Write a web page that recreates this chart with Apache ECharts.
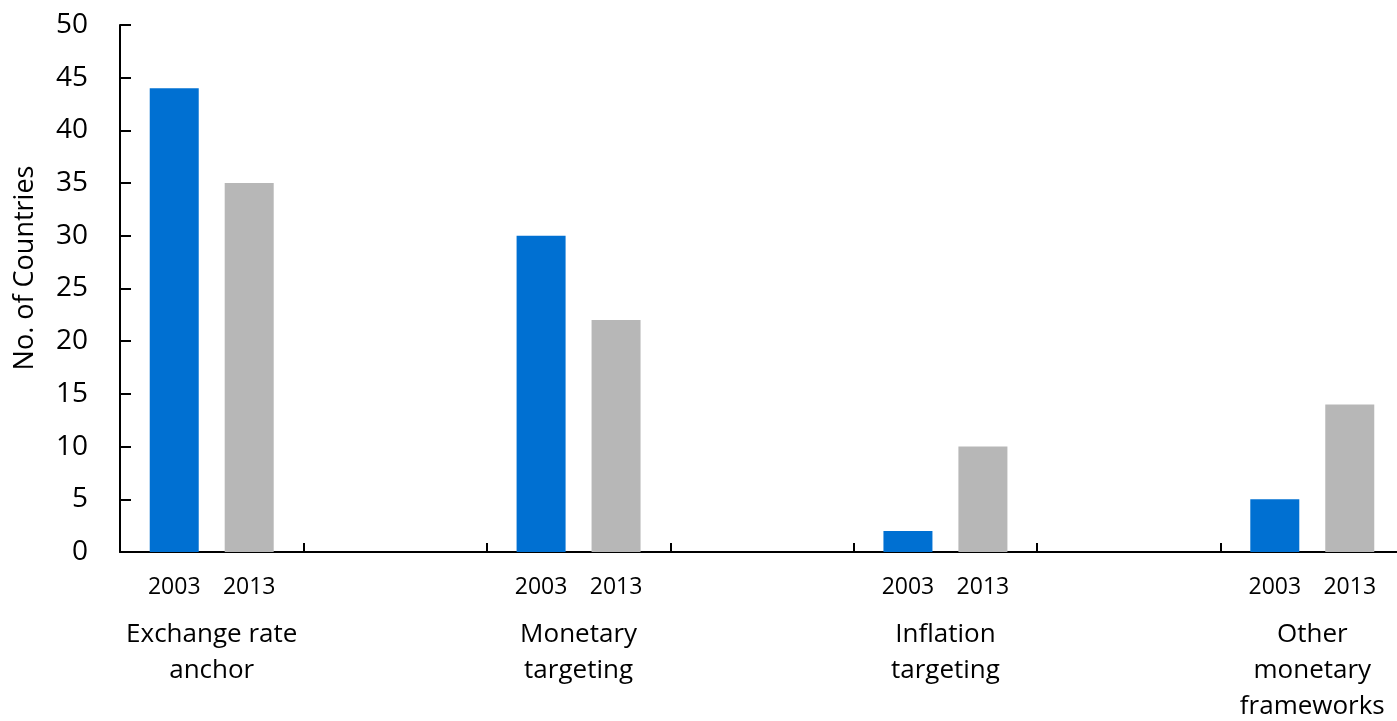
<!DOCTYPE html>
<html>
<head>
<meta charset="utf-8">
<script src="https://cdn.jsdelivr.net/npm/echarts@6/dist/echarts.min.js"></script>
<style>
html,body{margin:0;padding:0;background:#fff;}
#chart{width:1397px;height:721px;}
</style>
</head>
<body>
<div id="chart"></div>
<script>
// Data
const frameworks = ['Exchange rate\nanchor', 'Monetary\ntargeting', 'Inflation\ntargeting', 'Other\nmonetary\nframeworks'];
const years = ['2003', '2013'];
const values2003 = [44, 30, 2, 5];
const values2013 = [35, 22, 10, 14];
const yTicks = [0, 5, 10, 15, 20, 25, 30, 35, 40, 45, 50];
const yAxisTitle = 'No. of Countries';

// Build category slots with empty spacer slots between frameworks
const slots = [];
const s2003 = [];
const s2013 = [];
frameworks.forEach((f, i) => {
  if (i > 0) { slots.push(''); s2003.push(null); s2013.push(null); }
  slots.push(f);
  s2003.push(values2003[i]);
  s2013.push(values2013[i]);
});

const FONT = 'Open Sans';
const chart = echarts.init(document.getElementById('chart'), null, {renderer: 'canvas'});

const yearLabel = {
  show: true,
  position: 'bottom',
  distance: 24,
  formatter: p => p.seriesName,
  color: '#000',
  fontFamily: FONT,
  fontSize: 23
};

chart.setOption({
  animation: false,
  backgroundColor: '#fff',
  grid: {left: 120, width: 1284, top: 25, bottom: 169, containLabel: false, outerBoundsMode: 'none'},
  xAxis: {
    type: 'category',
    data: slots,
    boundaryGap: true,
    axisLine: {show: true, lineStyle: {color: '#000', width: 2}},
    axisTick: {show: true, inside: true, length: 9, interval: 0, lineStyle: {color: '#000', width: 2}},
    axisLabel: {
      interval: 0,
      color: '#000',
      fontFamily: FONT,
      fontSize: 26,
      lineHeight: 36,
      margin: 65,
      align: 'center'
    },
    splitLine: {show: false}
  },
  yAxis: {
    type: 'value',
    min: yTicks[0],
    max: yTicks[yTicks.length - 1],
    interval: yTicks[1] - yTicks[0],
    axisLine: {show: true, lineStyle: {color: '#000', width: 2}},
    axisTick: {show: true, inside: true, length: 11, lineStyle: {color: '#000', width: 2}},
    axisLabel: {color: '#000', fontFamily: FONT, fontSize: 28, margin: 32},
    splitLine: {show: false}
  },
  graphic: [{
    type: 'text',
    x: 25,
    y: 268,
    rotation: Math.PI / 2,
    style: {
      text: yAxisTitle,
      fill: '#000',
      font: '27px "Open Sans"',
      textAlign: 'center',
      textVerticalAlign: 'middle'
    }
  }],
  series: [
    {
      name: years[0],
      type: 'bar',
      data: s2003,
      barWidth: 49,
      barGap: '53%',
      itemStyle: {color: '#0070D2'},
      label: yearLabel
    },
    {
      name: years[1],
      type: 'bar',
      data: s2013,
      barWidth: 49,
      barGap: '53%',
      itemStyle: {color: '#B7B7B7'},
      label: yearLabel
    }
  ]
});
</script>
</body>
</html>
